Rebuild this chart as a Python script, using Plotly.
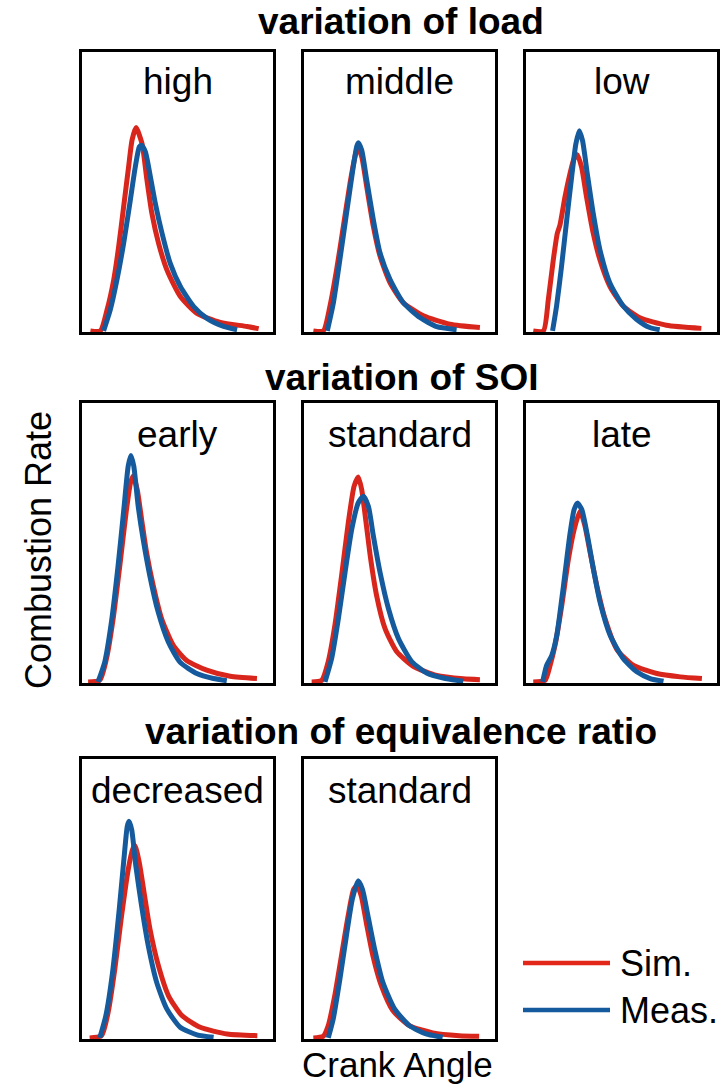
import plotly.graph_objects as go

W, H = 728, 1085

# ---------------- data (crank angle in arbitrary units 0..100, rate normalised) ----------------
# variation of load
HIGH_SIM_X = [4.4, 9.6, 13.1, 16.6, 19.2, 21.8, 24.4, 26.2, 28.3, 31.4, 34.0, 36.6, 40.1, 44.5, 51.5, 60.2, 72.4, 86.4, 92.5]
HIGH_SIM_Y = [0, 0, 0.075, 0.183, 0.302, 0.445, 0.588, 0.684, 0.729, 0.672, 0.541, 0.421, 0.314, 0.218, 0.123, 0.063, 0.030, 0.016, 0.008]
HIGH_MEAS_X = [11.3, 14.8, 18.3, 21.8, 25.3, 27.9, 30.0, 31.1, 33.2, 35.8, 38.4, 41.9, 46.2, 51.5, 58.5, 65.4, 74.2, 81.2]
HIGH_MEAS_Y = [0, 0.075, 0.183, 0.314, 0.469, 0.588, 0.660, 0.666, 0.642, 0.553, 0.457, 0.350, 0.242, 0.159, 0.087, 0.045, 0.016, 0.004]

MID_SIM_X = [4.9, 10.1, 13.6, 17.1, 20.6, 24.1, 26.7, 28.1, 30.2, 32.8, 36.3, 39.8, 45.0, 52.0, 62.5, 76.4, 92.1]
MID_SIM_Y = [0, 0, 0.089, 0.22, 0.375, 0.53, 0.625, 0.658, 0.625, 0.518, 0.375, 0.268, 0.173, 0.101, 0.054, 0.024, 0.012]
MID_MEAS_X = [12.2, 15.4, 18.8, 22.3, 25.8, 27.6, 28.4, 30.2, 32.8, 36.3, 39.8, 45.0, 52.0, 60.7, 69.5, 79.9]
MID_MEAS_Y = [0, 0.101, 0.256, 0.423, 0.589, 0.661, 0.675, 0.649, 0.542, 0.399, 0.280, 0.185, 0.101, 0.048, 0.015, 0.004]

LOW_SIM_X = [3.8, 9.1, 11.7, 14.3, 16.4, 17.8, 20.4, 23.0, 25.1, 26.8, 29.1, 31.7, 35.2, 38.7, 43.9, 50.9, 59.6, 73.5, 91.8]
LOW_SIM_Y = [0, 0, 0.113, 0.255, 0.35, 0.38, 0.48, 0.563, 0.617, 0.632, 0.587, 0.48, 0.35, 0.255, 0.16, 0.089, 0.047, 0.02, 0.009]
LOW_MEAS_X = [13.9, 16.0, 18.6, 21.3, 23.9, 26.1, 27.9, 29.6, 32.1, 35.2, 38.7, 43.9, 50.9, 57.8, 64.8, 70.0]
LOW_MEAS_Y = [0, 0.089, 0.231, 0.397, 0.552, 0.67, 0.718, 0.682, 0.563, 0.421, 0.291, 0.172, 0.089, 0.042, 0.012, 0.004]

# variation of SOI
EARLY_SIM_X = [3.2, 9.3, 12.8, 16.3, 19.8, 23.3, 25.4, 26.8, 28.9, 31.2, 33.8, 37.3, 41.7, 47.8, 54.8, 65.3, 77.6, 91.6]
EARLY_SIM_Y = [0, 0.006, 0.083, 0.226, 0.417, 0.619, 0.714, 0.738, 0.69, 0.583, 0.464, 0.345, 0.226, 0.131, 0.077, 0.042, 0.02, 0.012]
EARLY_MEAS_X = [8.4, 11.9, 15.4, 18.9, 21.9, 24.2, 25.6, 27.1, 29.4, 32.0, 35.5, 39.9, 45.2, 51.3, 60.1, 68.8, 75.8]
EARLY_MEAS_Y = [0, 0.071, 0.214, 0.417, 0.619, 0.774, 0.812, 0.774, 0.631, 0.512, 0.381, 0.25, 0.143, 0.071, 0.03, 0.012, 0.004]

STD_SIM_X = [4.0, 9.2, 12.7, 16.2, 19.7, 23.2, 26.2, 28.4, 30.2, 32.5, 34.9, 38.0, 42.4, 48.5, 57.2, 69.5, 83.4, 92.1]
STD_SIM_Y = [0, 0.005, 0.073, 0.204, 0.382, 0.571, 0.701, 0.735, 0.69, 0.571, 0.441, 0.31, 0.192, 0.109, 0.056, 0.023, 0.011, 0.008]
STD_MEAS_X = [11.0, 14.5, 18.0, 21.5, 25.0, 28.4, 31.1, 33.7, 36.3, 39.8, 44.2, 49.4, 56.4, 64.2, 72.9, 83.4]
STD_MEAS_Y = [0, 0.085, 0.227, 0.393, 0.547, 0.642, 0.666, 0.63, 0.524, 0.393, 0.263, 0.156, 0.073, 0.032, 0.014, 0.002]

LATE_SIM_X = [3.8, 10.0, 12.6, 15.2, 18.7, 22.2, 25.2, 28.3, 30.9, 33.6, 37.1, 41.4, 47.6, 56.3, 68.5, 80.8, 92.1]
LATE_SIM_Y = [0, 0.006, 0.059, 0.131, 0.273, 0.439, 0.546, 0.612, 0.558, 0.463, 0.344, 0.226, 0.116, 0.059, 0.03, 0.018, 0.012]
LATE_MEAS_X = [8.7, 10.8, 13.5, 16.1, 19.6, 23.1, 25.2, 26.9, 29.2, 32.2, 35.3, 38.8, 44.1, 51.0, 58.0, 65.0, 72.0]
LATE_MEAS_Y = [0, 0.059, 0.095, 0.166, 0.344, 0.534, 0.618, 0.641, 0.618, 0.523, 0.404, 0.285, 0.166, 0.083, 0.036, 0.012, 0.002]

# variation of equivalence ratio
DEC_SIM_X = [4.0, 10.2, 13.7, 17.2, 20.7, 24.2, 26.5, 27.7, 30.0, 32.5, 35.6, 40.0, 45.3, 52.3, 61.9, 76.0, 91.8]
DEC_SIM_Y = [0, 0.008, 0.092, 0.247, 0.437, 0.604, 0.676, 0.69, 0.628, 0.521, 0.39, 0.259, 0.151, 0.08, 0.038, 0.014, 0.008]
DEC_MEAS_X = [9.3, 12.5, 16.0, 19.5, 22.1, 23.7, 24.6, 26.0, 28.2, 31.2, 34.7, 39.1, 44.4, 51.4, 60.2, 68.9]
DEC_MEAS_Y = [0, 0.08, 0.235, 0.461, 0.652, 0.759, 0.777, 0.747, 0.616, 0.473, 0.33, 0.199, 0.104, 0.038, 0.011, 0.002]

EQS_SIM_X = [4.9, 10.1, 12.7, 16.1, 19.6, 23.1, 26.0, 27.8, 30.0, 32.6, 36.1, 40.5, 46.5, 55.2, 67.4, 81.3, 91.7]
EQS_SIM_Y = [0, 0.006, 0.044, 0.151, 0.294, 0.437, 0.533, 0.545, 0.509, 0.414, 0.294, 0.187, 0.098, 0.044, 0.018, 0.008, 0.006]
EQS_MEAS_X = [12.7, 15.3, 18.8, 22.2, 25.3, 28.3, 30.6, 33.5, 37.0, 41.3, 47.4, 55.2, 63.9, 72.6]
EQS_MEAS_Y = [0, 0.068, 0.211, 0.366, 0.497, 0.563, 0.533, 0.437, 0.318, 0.199, 0.104, 0.044, 0.014, 0.002]

PANEL_LABELS = ["high", "middle", "low", "early", "standard", "late", "decreased", "standard"]
GROUP_TITLES = ["variation of load", "variation of SOI", "variation of equivalence ratio"]
SERIES_NAMES = ["Sim.", "Meas."]

PANELS = [
    (HIGH_SIM_X, HIGH_SIM_Y, HIGH_MEAS_X, HIGH_MEAS_Y),
    (MID_SIM_X, MID_SIM_Y, MID_MEAS_X, MID_MEAS_Y),
    (LOW_SIM_X, LOW_SIM_Y, LOW_MEAS_X, LOW_MEAS_Y),
    (EARLY_SIM_X, EARLY_SIM_Y, EARLY_MEAS_X, EARLY_MEAS_Y),
    (STD_SIM_X, STD_SIM_Y, STD_MEAS_X, STD_MEAS_Y),
    (LATE_SIM_X, LATE_SIM_Y, LATE_MEAS_X, LATE_MEAS_Y),
    (DEC_SIM_X, DEC_SIM_Y, DEC_MEAS_X, DEC_MEAS_Y),
    (EQS_SIM_X, EQS_SIM_Y, EQS_MEAS_X, EQS_MEAS_Y),
]

# ---------------- layout ----------------
RED = "#d8261c"
BLUE = "#155a9c"
FONT = "Liberation Sans, Arial, sans-serif"

COLS_PX = [(82, 273), (304, 495), (526, 717)]
ROWS_PX = [(52, 332), (403, 683), (759, 1039)]
LABEL_Y_PX = [81, 435, 790]
TITLE_Y_PX = [22, 377, 731]

def px_x(v):
    return v / W

def px_y(v):
    return 1 - v / H

fig = go.Figure()
annotations = []
shapes = []

for i, (sx, sy, mx, my) in enumerate(PANELS):
    r, c = divmod(i, 3)
    n = i + 1
    xa = "x" if n == 1 else f"x{n}"
    ya = "y" if n == 1 else f"y{n}"
    fig.add_trace(go.Scatter(x=sx, y=sy, mode="lines", xaxis=xa, yaxis=ya,
                             line=dict(color=RED, width=5, shape="spline", smoothing=0.6),
                             showlegend=False, hoverinfo="skip"))
    fig.add_trace(go.Scatter(x=mx, y=my, mode="lines", xaxis=xa, yaxis=ya,
                             line=dict(color=BLUE, width=5, shape="spline", smoothing=0.6),
                             showlegend=False, hoverinfo="skip"))
    x0, x1 = COLS_PX[c]
    y0, y1 = ROWS_PX[r]
    axcommon = dict(showgrid=False, zeroline=False, showticklabels=False, ticks="",
                    showline=True, mirror=True, linecolor="black", linewidth=2.6,
                    fixedrange=True)
    fig.update_layout(**{
        ("xaxis" if n == 1 else f"xaxis{n}"): dict(domain=[px_x(x0), px_x(x1)], range=[0, 100],
                                                   anchor=ya, **axcommon),
        ("yaxis" if n == 1 else f"yaxis{n}"): dict(domain=[px_y(y1), px_y(y0)], range=[-0.004, 1],
                                                   anchor=xa, **axcommon),
    })
    annotations.append(dict(text=PANEL_LABELS[i], xref="paper", yref="paper",
                            x=px_x((x0 + x1) / 2), y=px_y(LABEL_Y_PX[r]),
                            xanchor="center", yanchor="middle", showarrow=False,
                            font=dict(family=FONT, size=37, color="black")))

for r, t in enumerate(GROUP_TITLES):
    annotations.append(dict(text=f"<b>{t}</b>", xref="paper", yref="paper",
                            x=px_x(401), y=px_y(TITLE_Y_PX[r]),
                            xanchor="center", yanchor="middle", showarrow=False,
                            font=dict(family=FONT, size=37, color="black")))

annotations.append(dict(text="Combustion Rate", xref="paper", yref="paper",
                        x=px_x(38), y=px_y(550), textangle=-90,
                        xanchor="center", yanchor="middle", showarrow=False,
                        font=dict(family=FONT, size=36, color="black")))
annotations.append(dict(text="Crank Angle", xref="paper", yref="paper",
                        x=px_x(398), y=px_y(1064),
                        xanchor="center", yanchor="middle", showarrow=False,
                        font=dict(family=FONT, size=35, color="black")))

# legend (drawn manually)
for name, col, ly in [(SERIES_NAMES[0], "#e2261a", 963), (SERIES_NAMES[1], BLUE, 1010)]:
    shapes.append(dict(type="line", xref="paper", yref="paper",
                       x0=px_x(523), x1=px_x(610), y0=px_y(ly), y1=px_y(ly),
                       line=dict(color=col, width=4.5)))
    annotations.append(dict(text=name, xref="paper", yref="paper",
                            x=px_x(618), y=px_y(ly), xanchor="left", yanchor="middle",
                            showarrow=False, font=dict(family=FONT, size=36, color="black")))

fig.update_layout(width=W, height=H, margin=dict(l=0, r=0, t=0, b=0),
                  paper_bgcolor="white", plot_bgcolor="white",
                  annotations=annotations, shapes=shapes, showlegend=False)

fig.write_html("out.html", config={"displayModeBar": False})
